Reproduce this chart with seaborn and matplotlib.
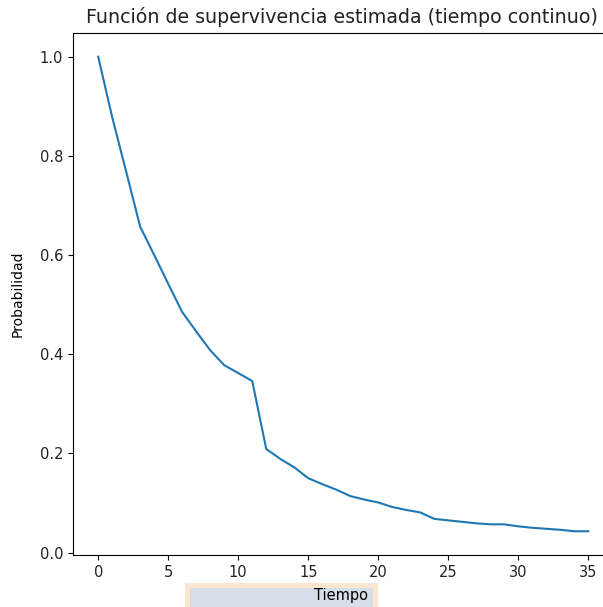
import matplotlib
matplotlib.use("Agg")
import matplotlib.pyplot as plt
from matplotlib.patches import Rectangle
import seaborn as sns
import pandas as pd

tiempo = list(range(36))
probabilidad = [1.000, 0.878, 0.768, 0.657, 0.600, 0.542, 0.485, 0.446, 0.408,
                0.378, 0.362, 0.346, 0.209, 0.189, 0.172, 0.150, 0.138, 0.127,
                0.114, 0.107, 0.101, 0.092, 0.086, 0.081, 0.068, 0.065, 0.062,
                0.059, 0.057, 0.057, 0.053, 0.050, 0.048, 0.046, 0.043, 0.043]

df = pd.DataFrame({"Tiempo": tiempo, "Probabilidad": probabilidad})

plt.rcParams['font.family'] = ['DejaVu Sans']
fig = plt.figure(figsize=(6.03, 6.07), dpi=100)
W, H = 603, 607
ax = fig.add_axes([73 / W, 1 - 555 / H, (610 - 73) / W, (555 - 33) / H])
ax.set_zorder(2)

sns.lineplot(data=df, x="Tiempo", y="Probabilidad", ax=ax, color="#1f77b4", linewidth=1.5)
ax.set_title("Función de supervivencia estimada (tiempo continuo)", fontsize=13.7,
             pad=7, color="#222222")
ax.set_xlabel("Tiempo", fontsize=10.5, labelpad=6)
ax.set_ylabel("Probabilidad", fontsize=10, labelpad=11)
ax.set_xticks([0, 5, 10, 15, 20, 25, 30, 35])
ax.set_yticks([0.0, 0.2, 0.4, 0.6, 0.8, 1.0])
ax.set_xlim(-1.8, 36.55)
ax.tick_params(labelsize=10.5, labelcolor="#222222")

# overlay box seen behind the x label
fig.patches.append(Rectangle((185 / W, 0), (378 - 185) / W, (607 - 583) / H,
                             transform=fig.transFigure, facecolor="#fbe6cf",
                             edgecolor="none", zorder=0))
fig.patches.append(Rectangle((190 / W, 0), (373 - 190) / W, (607 - 588) / H,
                             transform=fig.transFigure, facecolor="#d6dee8",
                             edgecolor="none", zorder=0))

fig.savefig("out.png", dpi=100)
